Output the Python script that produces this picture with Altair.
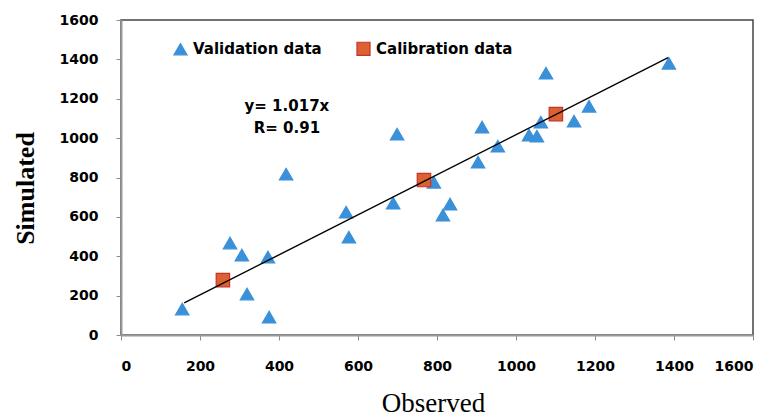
import altair as alt
import pandas as pd

# Validation data (triangles)
val_obs = [155, 276, 306, 319, 372, 375, 418, 570, 577, 689, 699, 792, 815, 833,
           904, 914, 954, 1033, 1053, 1063, 1076, 1147, 1185, 1387]
val_sim = [132, 467, 406, 208, 396, 91, 817, 624, 497, 670, 1020, 776, 609, 665,
           878, 1056, 959, 1015, 1010, 1081, 1330, 1086, 1162, 1380]

# Calibration data (squares)
cal_obs = [258, 767, 1101]
cal_sim = [279, 787, 1122]

# Fitted line y = 1.017x (end points)
line_x = [160, 1385]
line_y = [163, 1409]

# Annotations
ann_text = ["y= 1.017x", "R= 0.91"]
ann_x = [420, 420]
ann_y = [1162, 1050]

ticks = [0, 200, 400, 600, 800, 1000, 1200, 1400, 1600]
series_names = ["Validation data", "Calibration data"]

pts = pd.DataFrame({
    "Observed": val_obs + cal_obs,
    "Simulated": val_sim + cal_sim,
    "Series": [series_names[0]] * len(val_obs) + [series_names[1]] * len(cal_obs),
    "ord": [0] * len(val_obs) + [1] * len(cal_obs),
})
line_df = pd.DataFrame({"Observed": line_x, "Simulated": line_y})
ann_df = pd.DataFrame({"t": ann_text, "Observed": ann_x, "Simulated": ann_y})

xs = alt.Scale(domain=[0, 1600], nice=False, zero=False)
ys = alt.Scale(domain=[0, 1600], nice=False, zero=False)

x_axis = alt.Axis(values=ticks, grid=False, tickSize=5, tickColor="#8c8c8c",
                  domainColor="#9a9a9a", domainWidth=2, labelPadding=19,
                  labelOverlap=False, format="d",
                  labelFont="DejaVu Sans", labelFontWeight="bold", labelFontSize=14,
                  labelColor="black", title="Observed", titleFont="Liberation Serif",
                  titleFontSize=27, titleFontWeight="normal", titleColor="black",
                  titleX=312, titleY=76, titleBaseline="alphabetic", titleAnchor="middle")
y_axis = alt.Axis(values=ticks, grid=False, tickSize=5, tickColor="#8c8c8c",
                  domainColor="#9a9a9a", domainWidth=2, labelPadding=18,
                  labelOverlap=False, format="d",
                  labelFont="DejaVu Sans", labelFontWeight="bold", labelFontSize=14,
                  labelColor="black", title="Simulated", titleFont="Liberation Serif",
                  titleFontSize=26, titleFontWeight="bold", titleColor="black",
                  titleX=-88, titleY=168, titleBaseline="alphabetic", titleAngle=270)

legend = alt.Legend(orient="none", legendX=52, legendY=21, direction="horizontal",
                    title=None, labelFont="DejaVu Sans", labelFontWeight="bold",
                    labelFontSize=15, labelColor="black", symbolSize=170,
                    labelOffset=5, columnPadding=32, symbolStrokeWidth=1.2)

X = alt.X("Observed:Q", scale=xs, axis=x_axis)
Y = alt.Y("Simulated:Q", scale=ys, axis=y_axis)

points = alt.Chart(pts).mark_point(filled=True, opacity=1, strokeWidth=1.2, size=180).encode(
    x=X,
    y=Y,
    shape=alt.Shape("Series:N", scale=alt.Scale(domain=series_names, range=["triangle-up", "square"]),
                    legend=legend),
    fill=alt.Fill("Series:N", scale=alt.Scale(domain=series_names, range=["#3a90d9", "#db6230"]),
                  legend=legend),
    stroke=alt.Stroke("Series:N", scale=alt.Scale(domain=series_names, range=["#3a90d9", "#c8322a"]),
                      legend=legend),
    order=alt.Order("ord:Q"),
)

line = alt.Chart(line_df).mark_line(color="black", strokeWidth=1.4).encode(x=X, y=Y)

ann = alt.Chart(ann_df).mark_text(font="DejaVu Sans", fontWeight="bold", fontSize=15,
                                  color="black", align="center", baseline="middle").encode(
    x=X, y=Y, text="t:N",
)

chart = alt.layer(points, line, ann).properties(
    width=632, height=315,
    autosize=alt.AutoSizeParams(type="none"),
    padding={"left": 113, "top": 12, "right": 12, "bottom": 83},
).configure_view(
    stroke="#444444", strokeWidth=1.5
)

chart.save("out.html", embed_options={"renderer": "svg", "actions": False})
